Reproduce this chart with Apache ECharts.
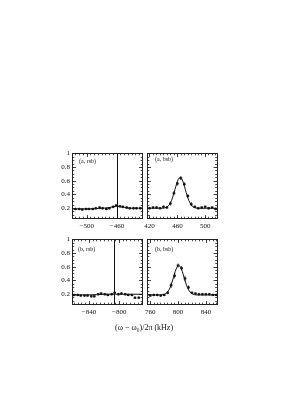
<!DOCTYPE html>
<html><head><meta charset="utf-8">
<script src="https://cdn.jsdelivr.net/npm/echarts@6/dist/echarts.min.js"></script>
<style>html,body{margin:0;padding:0;background:#fff}#c{width:307px;height:398px}</style>
</head><body><div id="c"></div>
<script>
// ---- data: (a, rsb) ----
const aRsbX   = [-515,-510,-506,-501,-497,-492,-488,-483,-479,-474,-470,-465,-461,-456,-452,-447,-443,-438,-434,-429];
const aRsbY   = [0.19,0.19,0.18,0.19,0.19,0.19,0.20,0.21,0.20,0.19,0.20,0.22,0.24,0.23,0.22,0.21,0.20,0.20,0.20,0.20];
const aRsbErr = [0.02,0.02,0.02,0.02,0.02,0.02,0.02,0.02,0.02,0.02,0.02,0.02,0.02,0.02,0.02,0.02,0.02,0.02,0.02,0.02];
const aRsbFitX = [-519,-500,-480,-470,-465,-460,-455,-450,-440,-426];
const aRsbFitY = [0.19,0.19,0.20,0.21,0.22,0.23,0.22,0.21,0.20,0.20];
// ---- data: (a, bsb) ----
const aBsbX   = [420,425,430,435,440,445,450,455,460,465,470,475,480,485,490,495,500,505,510,515];
const aBsbY   = [0.20,0.21,0.21,0.20,0.22,0.21,0.27,0.42,0.56,0.64,0.55,0.38,0.26,0.22,0.20,0.21,0.22,0.20,0.21,0.19];
const aBsbErr = [0.02,0.02,0.02,0.02,0.02,0.02,0.03,0.03,0.03,0.03,0.03,0.03,0.03,0.02,0.02,0.02,0.02,0.02,0.02,0.02];
const aBsbFitX = [417,439,444,446.5,449,451.5,454,456.5,459,461.5,464,466.5,469,471.5,474,476.5,479,481.5,484,489,517];
const aBsbFitY = [0.20,0.20,0.213,0.23,0.261,0.312,0.385,0.473,0.56,0.626,0.65,0.626,0.56,0.473,0.385,0.312,0.261,0.23,0.213,0.20,0.20];
// ---- data: (b, rsb) ----
const bRsbX   = [-860,-855,-851,-846,-842,-837,-833,-828,-824,-819,-815,-810,-806,-801,-797,-792,-788,-783,-779,-774];
const bRsbY   = [0.19,0.19,0.18,0.18,0.18,0.17,0.17,0.20,0.21,0.20,0.19,0.20,0.22,0.20,0.21,0.20,0.19,0.19,0.15,0.15];
const bRsbErr = [0.02,0.02,0.02,0.02,0.02,0.02,0.02,0.02,0.02,0.02,0.02,0.02,0.02,0.02,0.02,0.02,0.02,0.02,0.02,0.02];
const bRsbFitX = [-862,-840,-820,-800,-769];
const bRsbFitY = [0.19,0.19,0.20,0.20,0.20];
// ---- data: (b, bsb) ----
const bBsbX   = [760,765,770,775,780,785,790,795,800,805,810,815,820,825,830,835,840,845,850,855];
const bBsbY   = [0.18,0.19,0.19,0.18,0.19,0.22,0.33,0.47,0.62,0.58,0.43,0.30,0.22,0.21,0.20,0.20,0.20,0.20,0.19,0.19];
const bBsbErr = [0.02,0.02,0.02,0.02,0.02,0.02,0.04,0.04,0.03,0.03,0.04,0.03,0.02,0.02,0.02,0.02,0.02,0.02,0.02,0.02];
const bBsbFitX = [756,776,781,783.5,786,788.5,791,793.5,796,798.5,801,803.5,806,808.5,811,813.5,816,818.5,821,826,856];
const bBsbFitY = [0.19,0.19,0.203,0.22,0.248,0.297,0.367,0.45,0.535,0.597,0.62,0.597,0.535,0.45,0.367,0.297,0.248,0.22,0.203,0.19,0.19];

// ---- axes / labels ----
const panelLabels = ['(a, rsb)','(a, bsb)','(b, rsb)','(b, bsb)'];
const xRanges = [[-519,-426],[417,517],[-862,-769],[756,856]];
const xMajorTicks = [[-500,-460],[420,460,500],[-840,-800],[760,800,840]];
const yRange = [0.05, 1];
const yMajorTicks = [0.2,0.4,0.6,0.8,1];
const markerX = [-459, null, -807, null];
const xTitle = '(\u03c9 \u2212 \u03c9\u2080)/2\u03c0 (kHz)';

const panels = [
  {x:aRsbX,y:aRsbY,e:aRsbErr,fx:aRsbFitX,fy:aRsbFitY},
  {x:aBsbX,y:aBsbY,e:aBsbErr,fx:aBsbFitX,fy:aBsbFitY},
  {x:bRsbX,y:bRsbY,e:bRsbErr,fx:bRsbFitX,fy:bRsbFitY},
  {x:bBsbX,y:bBsbY,e:bBsbErr,fx:bBsbFitX,fy:bBsbFitY}
];

function tickList(min, max, step){
  const out=[]; let v=Math.ceil(min/step-1e-9)*step;
  for(; v<=max+1e-9; v+=step) out.push(Math.round(v*1000)/1000);
  return out;
}
const FONT='Liberation Serif';
const C='#222';
const gridPos = [
  {left:72.5, top:153.5, width:70, height:65},
  {left:147.5, top:153.5, width:69.5, height:65},
  {left:72.5, top:239.5, width:70, height:65},
  {left:147.5, top:239.5, width:69.5, height:65}
];
const labelPos = [[79,158.5],[155,156.5],[78,246.5],[155,246.5]];

const grid=[], xAxis=[], yAxis=[], series=[], title=[];
const fmtX = v => (v<0?'\u2212'+Math.abs(v):String(v));
const fmtY = v => (v===1?'1':String(v));
panels.forEach((p,i)=>{
  grid.push(Object.assign({containLabel:false, show:false}, gridPos[i]));
  const [mn,mx]=xRanges[i];
  const minor = tickList(mn,mx,5);
  const mk = (pos, ticks, len, showLine, showLabel) => ({
    type:'value', gridIndex:i, position:pos, min:mn, max:mx,
    axisLine:{show:showLine, onZero:false, lineStyle:{color:C,width:1}},
    axisTick:{show:true, inside:true, length:len, customValues:ticks, lineStyle:{color:C,width:0.8}},
    axisLabel:{show:showLabel, customValues:xMajorTicks[i], formatter:fmtX, fontFamily:FONT, fontSize:7, color:'#111', margin:4},
    splitLine:{show:false}
  });
  xAxis.push(mk('bottom', xMajorTicks[i], 3.5, true, true));
  xAxis.push(mk('bottom', minor, 1.8, false, false));
  xAxis.push(mk('top', xMajorTicks[i], 3.5, true, false));
  xAxis.push(mk('top', minor, 1.8, false, false));
  const yminor = tickList(yRange[0], yRange[1], 0.05);
  const mky = (pos, ticks, len, showLine, showLabel) => ({
    type:'value', gridIndex:i, position:pos, min:yRange[0], max:yRange[1],
    axisLine:{show:showLine, onZero:false, lineStyle:{color:C,width:1}},
    axisTick:{show:true, inside:true, length:len, customValues:ticks, lineStyle:{color:C,width:0.8}},
    axisLabel:{show:showLabel && (i%2===0), customValues:yMajorTicks, formatter:fmtY, fontFamily:FONT, fontSize:7, color:'#111', margin:2.5},
    splitLine:{show:false}
  });
  yAxis.push(mky('left', yMajorTicks, 3.5, true, true));
  yAxis.push(mky('left', yminor, 1.8, false, false));
  yAxis.push(mky('right', yMajorTicks, 3.5, true, false));
  yAxis.push(mky('right', yminor, 1.8, false, false));

  const fitData = p.fx.map((x,k)=>[x,p.fy[k]]);
  const s = {
    type:'line', xAxisIndex:4*i, yAxisIndex:4*i, data:fitData, smooth:0.3,
    showSymbol:false, lineStyle:{color:'#111', width:1}, silent:true, clip:true, z:3
  };
  if(markerX[i]!==null){
    s.markLine = {silent:true, symbol:'none', label:{show:false},
      lineStyle:{color:'#111', width:1, type:'solid'}, data:[{xAxis:markerX[i]}]};
  }
  series.push(s);
  series.push({
    type:'custom', xAxisIndex:4*i, yAxisIndex:4*i, clip:true, z:4,
    data: p.x.map((x,k)=>[x,p.y[k],p.e[k]]),
    encode:{x:0,y:1},
    renderItem:(params,api)=>{
      const x=api.value(0), y=api.value(1), e=api.value(2);
      const c=api.coord([x,y]), lo=api.coord([x,y-e]), hi=api.coord([x,y+e]);
      return {type:'group', children:[
        {type:'line', shape:{x1:c[0],y1:lo[1],x2:c[0],y2:hi[1]}, style:{stroke:'#111',lineWidth:0.8}},
        {type:'rect', shape:{x:c[0]-1.3,y:c[1]-1,width:2.6,height:2}, style:{fill:'#111'}}
      ]};
    }
  });
  title.push({text:panelLabels[i], left:labelPos[i][0], top:labelPos[i][1], padding:0,
    textStyle:{fontFamily:FONT, fontSize:6, fontWeight:'normal', color:'#222'}});
});
title.push({text:xTitle, left:'center', top:324, padding:0,
  textStyle:{fontFamily:FONT, fontSize:8, fontWeight:'normal', color:'#111'}});
// shift center of xlabel slightly to panel center
title[title.length-1].left = 115;

const chart = echarts.init(document.getElementById('c'), null, {renderer:'canvas'});
chart.setOption({animation:false, backgroundColor:'#fff', title, grid, xAxis, yAxis, series});
</script></body></html>
